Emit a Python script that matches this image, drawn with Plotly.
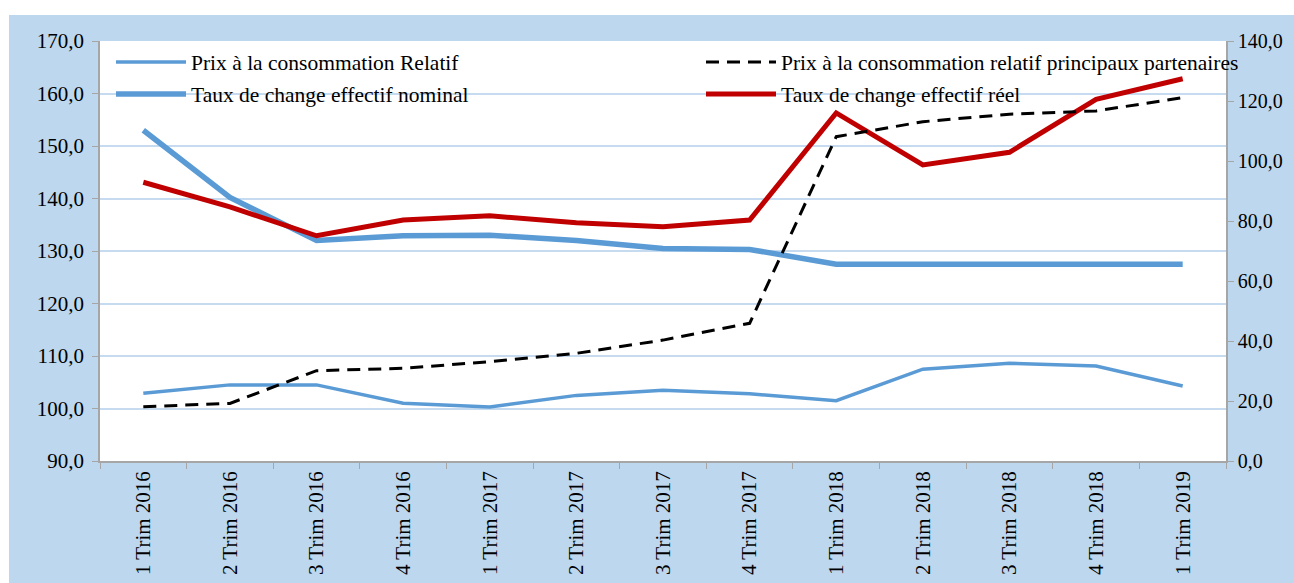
import plotly.graph_objects as go

categories = ["1 Trim 2016", "2 Trim 2016", "3 Trim 2016", "4 Trim 2016",
              "1 Trim 2017", "2 Trim 2017", "3 Trim 2017", "4 Trim 2017",
              "1 Trim 2018", "2 Trim 2018", "3 Trim 2018", "4 Trim 2018",
              "1 Trim 2019"]

prix_relatif = [102.9, 104.5, 104.5, 101.0, 100.3, 102.5, 103.5, 102.8,
                101.5, 107.5, 108.6, 108.1, 104.3]
prix_partenaires = [18.1, 19.2, 30.1, 30.9, 33.1, 35.9, 40.3, 45.9,
                    108.1, 113.1, 115.6, 116.7, 121.1]
tcen = [153.0, 140.2, 132.0, 132.9, 133.0, 132.0, 130.5, 130.3,
        127.5, 127.5, 127.5, 127.5, 127.5]
tcer = [143.1, 138.4, 132.9, 135.9, 136.7, 135.4, 134.6, 135.9,
        156.3, 146.4, 148.8, 158.9, 162.8]

names = ["Prix à la consommation Relatif",
         "Prix à la consommation relatif principaux partenaires",
         "Taux de change effectif nominal",
         "Taux de change effectif réel"]

FONT = "Liberation Serif"
BLUE_BG = "#BDD7EE"
GRID = "#C6DBEF"
AX = "#A6A6A6"

fig = go.Figure()
fig.add_trace(go.Scatter(x=categories, y=prix_relatif, name=names[0], mode="lines",
                         line=dict(color="#5B9BD5", width=3.5), legend="legend",
                         showlegend=True))
fig.add_trace(go.Scatter(x=categories, y=prix_partenaires, name=names[1], mode="lines",
                         line=dict(color="black", width=3, dash="13px,8px"),
                         yaxis="y2", legend="legend2", showlegend=True))
fig.add_trace(go.Scatter(x=categories, y=tcen, name=names[2], mode="lines",
                         line=dict(color="#5B9BD5", width=5.5), legend="legend3",
                         showlegend=True))
fig.add_trace(go.Scatter(x=categories, y=tcer, name=names[3], mode="lines",
                         line=dict(color="#C00000", width=5), legend="legend4",
                         showlegend=True))

# body margin is removed, so figure pixels == page pixels
W, H = 1294, 583
L = 100
R = W - 1226
T = 41
B = H - 461
pw, ph = W - L - R, H - T - B


def px_x(x):
    return (x - L) / pw


def px_y(y):
    return (H - B - y) / ph


leg_common = dict(bgcolor="rgba(0,0,0,0)", borderwidth=0, itemwidth=70,
                  font=dict(family=FONT, size=21.5, color="black"),
                  xanchor="left", yanchor="middle")

tickfont = dict(family=FONT, size=21, color="black")
tickfont_right = dict(family=FONT, size=20, color="black")

fig.update_layout(
    width=W, height=H,
    showlegend=True,
    margin=dict(l=L, r=R, t=T, b=B, autoexpand=False),
    paper_bgcolor=BLUE_BG,
    plot_bgcolor="white",
    separators=", ",
    legend=dict(x=px_x(111), y=px_y(62), **leg_common),
    legend2=dict(x=px_x(701), y=px_y(62), **leg_common),
    legend3=dict(x=px_x(111), y=px_y(94), **leg_common),
    legend4=dict(x=px_x(701), y=px_y(94), **leg_common),
    xaxis=dict(type="category", range=[-0.5, len(categories) - 0.5],
               tickson="boundaries", ticks="outside", ticklen=6,
               tickcolor=AX, showline=True, linecolor=AX, linewidth=1.5,
               tickangle=-90, tickfont=tickfont, showgrid=False, automargin=False),
    yaxis=dict(range=[90, 170], dtick=10, tickformat=".1f", ticks="outside",
               ticklen=6, tickcolor=AX, showline=True, linecolor=AX, linewidth=1.5,
               showgrid=True, gridcolor=GRID, gridwidth=1.5, zeroline=False,
               tickfont=tickfont, ticklabelstandoff=4, automargin=False),
    yaxis2=dict(range=[0, 140], dtick=20, tickformat=".1f", ticks="outside",
                ticklen=6, tickcolor=AX, showline=True, linecolor=AX, linewidth=1.5,
                overlaying="y", side="right", showgrid=False, zeroline=False,
                tickfont=tickfont_right, ticklabelstandoff=0, automargin=False),
    shapes=[
        dict(type="rect", xref="paper", yref="paper", x0=px_x(-10), x1=px_x(W + 10),
             y0=px_y(15), y1=px_y(-10), fillcolor="white", line=dict(width=0),
             layer="below"),
        dict(type="rect", xref="paper", yref="paper", x0=px_x(-10), x1=px_x(9),
             y0=px_y(H + 10), y1=px_y(-10), fillcolor="white", line=dict(width=0),
             layer="below"),
    ],
)

fig.write_html(
    "out.html",
    config={"displayModeBar": False},
    post_script="document.body.style.margin='0';"
                "document.documentElement.style.overflow='hidden';"
                "document.body.style.overflow='hidden';",
)
